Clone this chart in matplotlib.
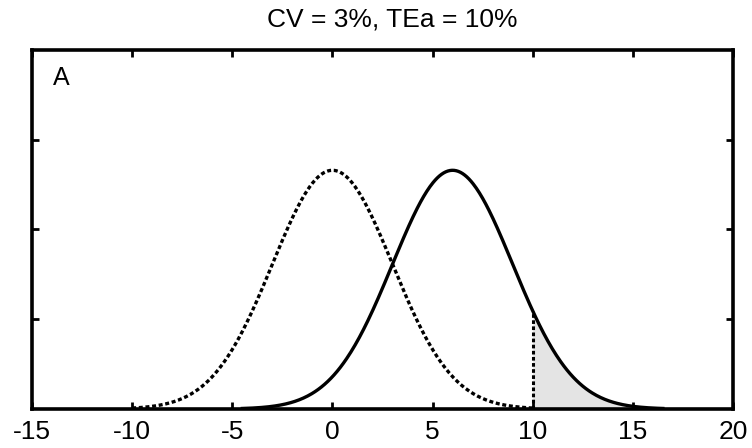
import numpy as np
import matplotlib
matplotlib.use("Agg")
from matplotlib import pyplot as plt

# Values
title_text = "CV = 3%, TEa = 10%"
panel_label = "A"
cv = 3.0                      # standard deviation of both curves
tea = 10.0                    # total allowable error limit
means = [0.0, 6.0]            # dotted (no bias) and solid (biased) curves
x_from = [-10.0, -4.5]        # where each drawn curve starts
x_to = [10.0, 16.5]           # where each drawn curve ends
xticks = [-15, -10, -5, 0, 5, 10, 15, 20]
yticks = [0.05, 0.10, 0.15]

plt.rcParams["font.family"] = ["Liberation Sans", "DejaVu Sans"]


def gauss(x, mu, sd):
    return np.exp(-0.5 * ((x - mu) / sd) ** 2) / (sd * np.sqrt(2 * np.pi))


fig = plt.figure(figsize=(7.52, 4.48), dpi=100)
ax = fig.add_axes([0.0426, 0.0871, 0.9321, 0.8013])

# dotted curve: no bias
xs = np.linspace(x_from[0], x_to[0], 400)
ax.plot(xs, gauss(xs, means[0], cv), color="black", lw=2.4,
        linestyle=(0, (1.2, 0.8)))

# shaded tail beyond TEa
xt = np.linspace(tea, x_to[1], 200)
ax.fill_between(xt, 0, gauss(xt, means[1], cv), color="#e4e4e4", lw=0)

# solid curve: with bias
xs = np.linspace(x_from[1], x_to[1], 400)
ax.plot(xs, gauss(xs, means[1], cv), color="black", lw=2.4)

# dotted limit line at TEa
ax.plot([tea, tea], [0, gauss(tea, means[1], cv)], color="black", lw=2.2,
        linestyle=(0, (1.2, 0.8)))

ax.set_xlim(-15, 20)
ax.set_ylim(0, 0.2)
ax.set_xticks(xticks)
ax.set_xticklabels([str(t) for t in xticks])
ax.set_yticks(yticks)
ax.set_yticklabels([])
ax.tick_params(direction="in", length=5, width=2, top=True, right=True,
               labelsize=19, pad=8)
for side in ax.spines.values():
    side.set_linewidth(2.6)

ax.text(0.03, 0.955, panel_label, transform=ax.transAxes, fontsize=18,
        va="top", ha="left")
fig.text(392 / 752, 1 - 27 / 448, title_text, fontsize=19,
         ha="center", va="baseline")

plt.savefig("out.png", dpi=100)
